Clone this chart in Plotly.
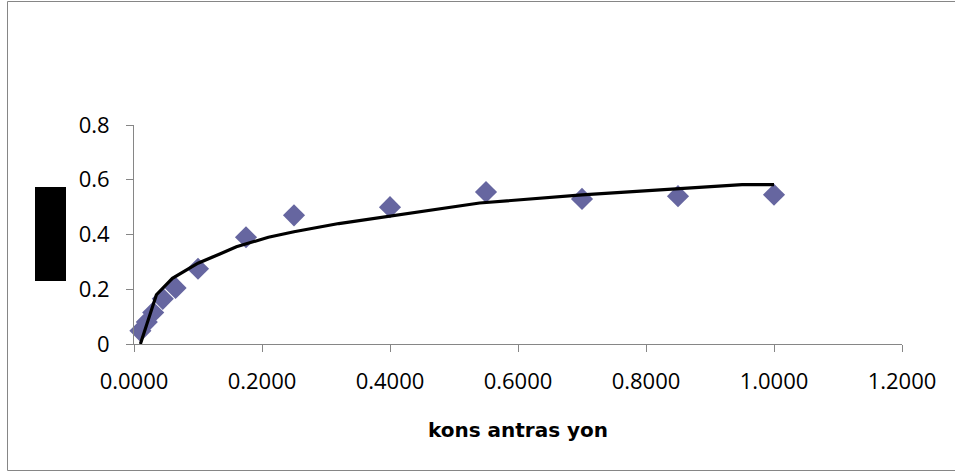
import plotly.graph_objects as go

# Measured data points (diamonds)
conc = [0.01, 0.02, 0.03, 0.045, 0.065, 0.10, 0.175, 0.25, 0.40, 0.55, 0.70, 0.85, 1.00]
resp = [0.048, 0.08, 0.115, 0.165, 0.205, 0.275, 0.39, 0.47, 0.50, 0.555, 0.53, 0.54, 0.545]

# Fitted curve
fit_x = [0.01, 0.035, 0.06, 0.10, 0.135, 0.16, 0.21, 0.25, 0.32, 0.40, 0.45, 0.54, 0.70, 0.85, 0.95, 1.00]
fit_y = [0.0, 0.18, 0.24, 0.295, 0.33, 0.355, 0.39, 0.41, 0.44, 0.468, 0.485, 0.515, 0.545, 0.567, 0.582, 0.582]

x_ticks = [0.0, 0.2, 0.4, 0.6, 0.8, 1.0, 1.2]
y_ticks = [0, 0.2, 0.4, 0.6, 0.8]

W, H = 955, 472
L, R, T, B = 134, 53, 125, 128
PW, PH = W - L - R, H - T - B


def px(x):
    return (x - L) / PW


def py(y):
    return (H - B - y) / PH


fig = go.Figure()
fig.add_trace(go.Scatter(
    x=conc, y=resp, mode="markers",
    marker=dict(symbol="diamond", size=17, color="#6666A0", line=dict(width=0)),
    cliponaxis=False, showlegend=False,
))
fig.add_trace(go.Scatter(
    x=fit_x, y=fit_y, mode="lines",
    line=dict(color="black", width=3.2),
    cliponaxis=False, showlegend=False,
))

font_family = "Open Sans, Liberation Sans, sans-serif"

fig.update_layout(
    width=W, height=H,
    margin=dict(l=L, r=R, t=T, b=B, pad=0),
    paper_bgcolor="white", plot_bgcolor="white",
    font=dict(family=font_family, size=22, color="black"),
    xaxis=dict(
        range=[0, 1.2], tickvals=x_ticks, tickformat=".4f",
        showgrid=False, zeroline=False,
        showline=True, linecolor="#868686", linewidth=1,
        ticks="outside", ticklen=7, tickcolor="#868686",
        ticklabelstandoff=11,
        title=dict(text="kons antras yon",
                   font=dict(size=20, weight="bold", family="DejaVu Sans, sans-serif"),
                   standoff=28),
    ),
    yaxis=dict(
        range=[0, 0.8], tickvals=y_ticks,
        showgrid=False, zeroline=False,
        showline=True, linecolor="#868686", linewidth=1,
        ticks="outside", ticklen=7, tickcolor="#868686",
        ticklabelstandoff=12,
    ),
    shapes=[
        # obscured y-axis title block
        dict(type="rect", xref="paper", yref="paper",
             x0=px(35), x1=px(66), y0=py(281), y1=py(187),
             fillcolor="black", line=dict(width=0), layer="above"),
        # outer chart border (right edge lies outside the picture)
        dict(type="rect", xref="paper", yref="paper",
             x0=px(7.5), x1=px(965), y0=py(470.5), y1=py(1.5),
             fillcolor="rgba(0,0,0,0)", line=dict(color="#868686", width=1), layer="below"),
    ],
)

fig.write_html("out.html", config={"displayModeBar": False},
               post_script="document.body.style.margin='0';document.body.style.overflow='hidden';")
